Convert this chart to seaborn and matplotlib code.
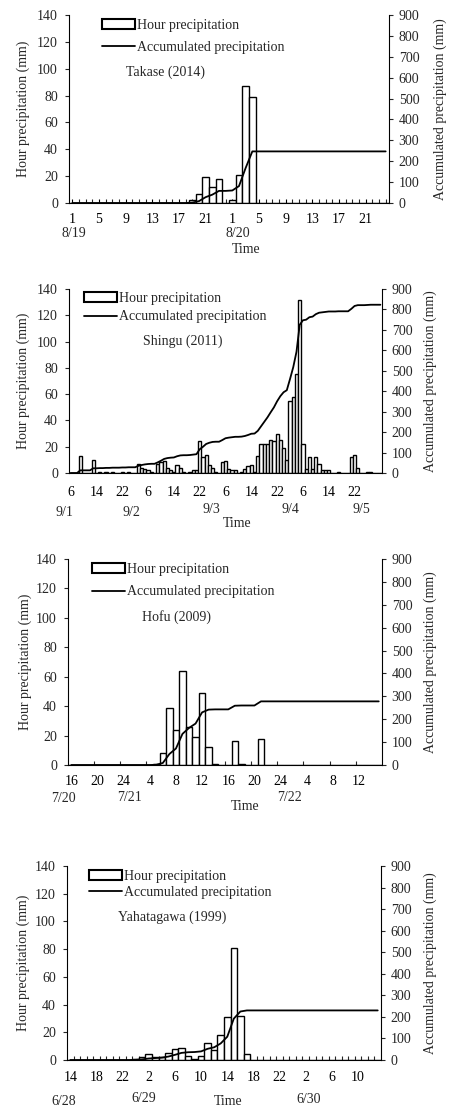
import matplotlib
matplotlib.use('Agg')
import matplotlib.pyplot as plt
from matplotlib.patches import Patch
from matplotlib.lines import Line2D
import seaborn as sns

# hourly precipitation (mm) and accumulated precipitation (mm), one value per hour
takase_hour = [0] * 18 + [2, 7, 19, 12, 18, 0, 2, 21, 87, 79] + [0] * 20
takase_acc = [0] * 18 + [2, 9, 28, 40, 58, 58, 60, 81, 168, 247] + [247] * 20
takase_hours = ['1', '5', '9', '13', '17', '21'] * 2
takase_dates = ['8/19', '8/20']

shingu_hour = [0, 0, 0, 13, 0, 0, 0, 10, 0, 1,
               0, 1, 0, 1, 0, 0, 1, 0, 1, 0,
               0, 7, 4, 3, 2, 1, 0, 7, 8, 9,
               4, 2, 1, 6, 4, 1, 0, 1, 2, 2,
               24, 12, 14, 6, 4, 1, 0, 8, 9, 3,
               2, 2, 0, 1, 3, 5, 6, 1, 13, 22,
               22, 22, 25, 24, 30, 25, 19, 10, 55, 58,
               75, 132, 22, 3, 12, 3, 12, 7, 2, 2,
               2, 0, 0, 1, 0, 0, 0, 12, 14, 4,
               0, 0, 1, 1, 0, 0, 0]
shingu_acc = [0, 0, 0, 13, 13, 13, 13, 23, 23, 24,
              24, 25, 25, 26, 26, 26, 27, 27, 28, 28,
              28, 35, 39, 42, 44, 45, 45, 52, 60, 69,
              73, 75, 76, 82, 86, 87, 87, 88, 90, 92,
              116, 128, 142, 148, 152, 153, 153, 161, 170, 173,
              175, 177, 177, 178, 181, 186, 192, 193, 206, 228,
              250, 272, 297, 321, 351, 376, 395, 405, 460, 518,
              593, 725, 747, 750, 762, 765, 777, 784, 786, 788,
              790, 790, 790, 791, 791, 791, 791, 803, 817, 821,
              821, 821, 822, 823, 823, 823, 823]
shingu_hours = ['6', '14', '22'] * 4
shingu_dates = ['9/1', '9/2', '9/3', '9/4', '9/5']

hofu_hour = [0] * 13 + [1, 8, 39, 24, 64, 26, 19, 49, 12, 1, 0, 0, 16, 1, 0, 0, 18] + [0] * 18
hofu_acc = [0] * 13 + [1, 9, 48, 72, 136, 162, 181, 230, 242, 243, 243, 243, 259, 260, 260, 260, 278] + [278] * 18
hofu_hours = ['16', '20', '24', '4', '8', '12'] * 2
hofu_dates = ['7/20', '7/21', '7/22']

yaha_hour = [0] * 10 + [1, 2, 4, 2, 2, 5, 8, 9, 3, 1, 3, 12, 7, 18, 31, 81, 32, 4] + [0] * 20
yaha_acc = [0] * 10 + [1, 3, 7, 9, 11, 16, 24, 33, 36, 37, 40, 52, 59, 77, 108, 192, 225, 230] + [230] * 20
yaha_hours = ['14', '18', '22', '2', '6', '10'] * 2
yaha_dates = ['6/28', '6/29', '6/30']

W, H = 452, 1108

sns.set_style('ticks')
plt.rcParams['font.family'] = ['Liberation Serif', 'DejaVu Serif']
plt.rcParams['font.size'] = 10


def px_rect(left, top, right, bottom):
    return [left / W, 1 - bottom / H, (right - left) / W, (bottom - top) / H]


panels = [
    dict(name='Takase (2014)', hour=takase_hour, acc=takase_acc, hours=takase_hours, step=4,
         dates=takase_dates, box=(69, 15, 389, 203), major_len=3, minor=list(range(48)), xpad=7,
         leg=(0.103, 0.979), ls=0.65, title=(0.302, 0.697),
         date_pos=[(0.016, -0.163), (0.528, -0.163)], time=(0.555, -0.247), ylab=(-0.144, 1.159)),
    dict(name='Shingu (2011)', hour=shingu_hour, acc=shingu_acc, hours=shingu_hours, step=8,
         dates=shingu_dates, box=(69, 289, 382, 473), major_len=0, minor=[], xpad=9,
         leg=(0.048, 0.985), ls=0.41, title=(0.364, 0.717),
         date_pos=[(-0.013, -0.217), (0.200, -0.217), (0.454, -0.196), (0.706, -0.196), (0.935, -0.196)],
         time=(0.536, -0.277), ylab=(-0.147, 1.153)),
    dict(name='Hofu (2009)', hour=hofu_hour, acc=hofu_acc, hours=hofu_hours, step=4,
         dates=hofu_dates, box=(68, 559, 382, 765), major_len=0, minor=[3.5 + 4 * k for k in range(11)],
         xpad=7, leg=(0.076, 0.980), ls=0.67, title=(0.347, 0.718),
         date_pos=[(-0.013, -0.165), (0.197, -0.158), (0.707, -0.158)], time=(0.564, -0.200),
         ylab=(-0.137, 1.153)),
    dict(name='Yahatagawa (1999)', hour=yaha_hour, acc=yaha_acc, hours=yaha_hours, step=4,
         dates=yaha_dates, box=(67, 866, 381, 1060), major_len=0, minor=[0.5 + k for k in range(47)],
         xpad=8, leg=(0.070, 0.980), ls=0.24, title=(0.334, 0.737),
         date_pos=[(-0.010, -0.216), (0.245, -0.196), (0.771, -0.206)], time=(0.513, -0.212),
         ylab=(-0.140, 1.156)),
]

fig = plt.figure(figsize=(W / 100, H / 100), dpi=100)

for p in panels:
    n = len(p['hour'])
    idx = list(range(n))
    ax = fig.add_axes(px_rect(*p['box']))
    sns.barplot(x=idx, y=p['hour'], ax=ax, color='white', edgecolor='black', linewidth=1.0,
                width=1.0, saturation=1, errorbar=None)
    ax2 = ax.twinx()
    sns.lineplot(x=idx, y=p['acc'], ax=ax2, color='black', linewidth=1.3)

    ax.set_xlim(-0.5, n - 0.5)
    ax.set_ylim(0, 140)
    ax2.set_ylim(0, 900)
    ax.set_yticks(range(0, 141, 20))
    ax2.set_yticks(range(0, 901, 100))
    ax.set_xticks(list(range(0, n, p['step']))[:len(p['hours'])])
    ax.set_xticklabels(p['hours'])
    ax.set_xticks(p['minor'], minor=True)
    ax.set_xlabel('')
    ax.set_ylabel('')
    ax2.set_ylabel('')

    ax.tick_params(axis='x', which='major', direction='in', length=p['major_len'], width=0.8,
                   pad=p['xpad'], labelsize=10, colors='black')
    ax.tick_params(axis='x', which='minor', direction='in', length=3, width=0.8)
    ax.tick_params(axis='y', direction='out', length=3, width=0.8, pad=5, labelsize=10)
    ax2.tick_params(axis='y', direction='out', length=3, width=0.8, pad=4, labelsize=10)

    for a in (ax, ax2):
        a.spines['top'].set_visible(False)
        for s in a.spines.values():
            s.set_linewidth(0.8)
            s.set_color('black')
    ax.spines['right'].set_visible(False)
    ax2.spines['left'].set_visible(False)
    ax2.spines['bottom'].set_visible(False)

    ax.text(p['ylab'][0], 0.5, 'Hour precipitation (mm)', transform=ax.transAxes,
            rotation=90, ha='center', va='center', fontsize=10)
    ax.text(p['ylab'][1], 0.5, 'Accumulated precipitation (mm)', transform=ax.transAxes,
            rotation=90, ha='center', va='center', fontsize=10)
    ax2.text(p['title'][0], p['title'][1], p['name'], transform=ax.transAxes,
             ha='center', va='center', fontsize=10)
    for label, (x, y) in zip(p['dates'], p['date_pos']):
        ax.text(x, y, label, transform=ax.transAxes, ha='center', va='center', fontsize=10)
    ax.text(p['time'][0], p['time'][1], 'Time', transform=ax.transAxes,
            ha='center', va='center', fontsize=10)

    handles = [Patch(facecolor='white', edgecolor='black', linewidth=1.5),
               Line2D([], [], color='black', linewidth=1.3)]
    ax2.legend(handles, ['Hour precipitation', 'Accumulated precipitation'], loc='upper left',
               bbox_to_anchor=p['leg'], frameon=False, borderpad=0, borderaxespad=0,
               handlelength=2.4, handletextpad=0.15, labelspacing=p['ls'], fontsize=10)

fig.savefig('out.png', dpi=100)
